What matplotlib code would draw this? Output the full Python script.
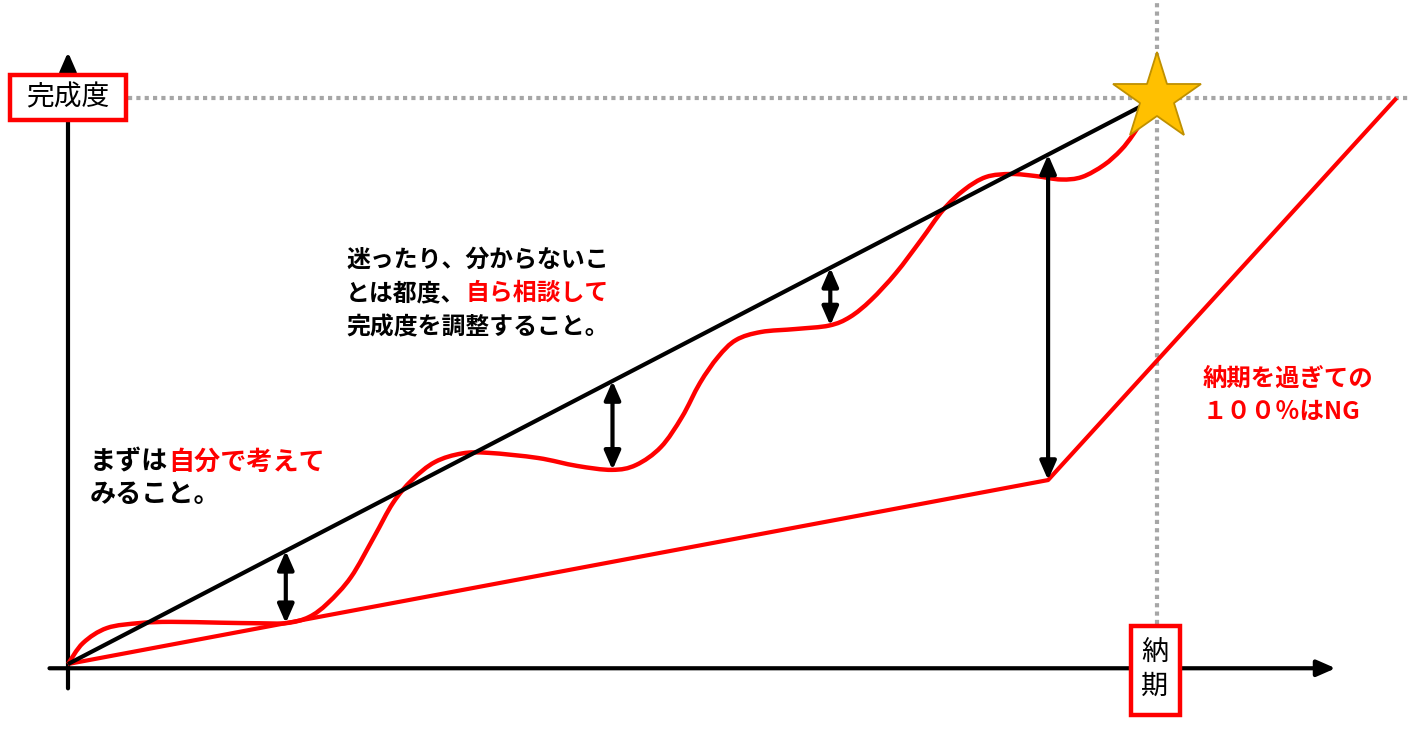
import numpy as np
import matplotlib
matplotlib.use("Agg")
import matplotlib.pyplot as plt
from matplotlib.path import Path
from matplotlib.patches import PathPatch, Rectangle

plt.rcParams['font.family'] = ['Noto Sans CJK JP', 'DejaVu Sans']

# Time runs 0 (start) .. 100 (deadline); completion runs 0 .. 100 %.
ideal_t = [0, 100]
ideal_c = [0, 100]

# Working alone without consulting: finishes after the deadline.
late_t = [0, 90, 122]
late_c = [0, 32.5, 100]

# Progress when checking in along the way (wavy path).
actual_t = [0, 1.38, 3.58, 6.61, 9.5, 14.0, 17.5, 20.1, 22.13, 23.87, 25.99, 28.1,
            29.84, 31.59, 33.7, 36.18, 38.66, 43.16, 46.74, 49.95, 52.16, 54.45,
            56.38, 58.03, 59.69, 61.34, 63.64, 66.85, 69.9, 71.81, 73.74, 76.03,
            78.33, 80.35, 82.28, 84.3, 86.59, 88.89, 91.18, 93.11, 95.13, 96.69,
            97.9, 100]
actual_c = [0, 3.71, 6.36, 7.24, 7.45, 7.3, 7.2, 7.24, 8.3, 10.78, 15.37, 22.44,
            28.45, 32.51, 35.69, 37.2, 37.3, 36.4, 35.0, 34.3, 35.16, 38.34,
            43.64, 49.65, 54.24, 57.24, 58.66, 59.19, 59.8, 61.31, 64.31, 69.08,
            74.91, 80.21, 83.75, 86.04, 86.57, 86.2, 85.6, 86.04, 88.16, 90.81,
            93.8, 100]

# Gaps between plan and reality.
gap_t = [20, 50, 70, 90]
gap_low = [7.2, 34.3, 59.8, 32.5]

RED = '#FF0000'
GRAY = '#A6A6A6'

W, H = 1414, 756
fig = plt.figure(figsize=(W / 100, H / 100), dpi=100)
ax = fig.add_axes([0, 0, 1, 1])
ax.set_xlim(-6.244, 123.60)
ax.set_ylim(-16.25, 117.31)
ax.axis('off')


def smooth_path(xs, ys):
    """Catmull-Rom curve through the given points, as cubic Bezier segments."""
    p = np.column_stack([xs, ys]).astype(float)
    ext = np.vstack([p[0], p, p[-1]])
    verts = [p[0]]
    codes = [Path.MOVETO]
    for i in range(1, len(ext) - 2):
        p0, p1, p2, p3 = ext[i - 1], ext[i], ext[i + 1], ext[i + 2]
        verts += [p1 + (p2 - p0) / 6, p2 - (p3 - p1) / 6, p2]
        codes += [Path.CURVE4] * 3
    return Path(verts, codes)


# Coordinate axes with arrow heads
axis_arrow = dict(arrowstyle='-|>,head_length=0.8,head_width=0.35',
                  color='black', lw=3, mutation_scale=14, shrinkA=0, shrinkB=0)
ax.annotate('', xy=(0, 108.1), xytext=(0, -4.3), arrowprops=axis_arrow, zorder=1)
ax.annotate('', xy=(116.4, -0.75), xytext=(-1.7, -0.75), arrowprops=axis_arrow, zorder=1)

# Dotted guides for 100 % and the deadline
ax.plot([5.5, 123.3], [100, 100], color=GRAY, lw=3, ls=(0, (1, 1)),
        solid_capstyle='butt', dash_capstyle='butt', zorder=2)
ax.plot([100, 100], [7, 119], color=GRAY, lw=3, ls=(0, (1, 1)),
        solid_capstyle='butt', dash_capstyle='butt', zorder=2)

# Lines
ax.plot(late_t, late_c, color=RED, lw=3, solid_capstyle='butt', zorder=3)
ax.add_patch(PathPatch(smooth_path(actual_t, actual_c), fill=False,
                       edgecolor=RED, lw=3.2, zorder=3))
ax.plot(ideal_t, ideal_c, color='black', lw=3, solid_capstyle='butt', zorder=4)

# Gap arrows
gap_top = np.interp(gap_t, ideal_t, ideal_c)
gap_arrow = dict(arrowstyle='<|-|>,head_length=0.8,head_width=0.35',
                 color='black', lw=3, mutation_scale=14, shrinkA=0, shrinkB=0)
for t, lo, hi in zip(gap_t, gap_low, gap_top):
    ax.annotate('', xy=(t, hi), xytext=(t, lo), arrowprops=gap_arrow, zorder=5)

# Goal star
ax.plot([ideal_t[-1]], [ideal_c[-1]], marker='*', ms=66, mfc='#FFC000',
        mec='#BF9000', mew=1.3, zorder=6)

# Overlay in pixel units for labels
ov = fig.add_axes([0, 0, 1, 1])
ov.set_xlim(0, W)
ov.set_ylim(H, 0)
ov.axis('off')
ov.patch.set_alpha(0)

ov.add_patch(Rectangle((9.5, 74.5), 116, 45.5, facecolor='white',
                       edgecolor=RED, lw=3.2, zorder=5))
ov.text(68, 97, '完成度', fontsize=20, ha='center', va='center', zorder=6)

ov.add_patch(Rectangle((1130.5, 625.5), 49, 89, facecolor='white',
                       edgecolor=RED, lw=3.2, zorder=5))
ov.text(1155, 670, '納\n期', fontsize=19.5, ha='center', va='center',
        linespacing=1.3, zorder=6)


def two_tone(x, y, first, second, size, c1='black', c2=RED):
    t1 = ov.text(x, y, first, fontsize=size, fontweight='bold', color=c1,
                 ha='left', va='center')
    if second:
        ov.annotate(second, xy=(1, 0), xycoords=t1, fontsize=size,
                    fontweight='bold', color=c2, ha='left', va='bottom')


s1 = 17.2
two_tone(346, 260, '迷ったり、分からないこ', '', s1)
two_tone(346, 293, 'とは都度、', '自ら相談して', s1)
two_tone(346, 327, '完成度を調整すること。', '', s1)

s2 = 18.8
two_tone(90, 462, 'まずは', '自分で考えて', s2)
two_tone(90, 495, 'みること。', '', s2)

s3 = 17.6
two_tone(1203, 379, '納期を過ぎての', '', s3, c1=RED)
two_tone(1203, 412, '１００％はNG', '', s3, c1=RED)

fig.savefig('out.png', dpi=100)
